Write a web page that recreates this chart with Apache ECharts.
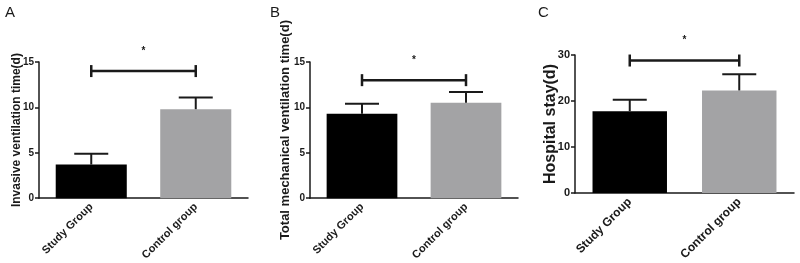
<!DOCTYPE html>
<html>
<head>
<meta charset="utf-8">
<script src="https://cdn.jsdelivr.net/npm/echarts@6/dist/echarts.min.js"></script>
<style>
  html, body { margin: 0; padding: 0; background: #fff; }
  #chart { width: 800px; height: 263px; }
</style>
</head>
<body>
<div id="chart"></div>
<script>
// group names on every x axis
const categories = ['Study Group', 'Control group'];

// A: invasive ventilation time (d)
const invasiveMean = [3.7, 9.8];
const invasiveErr = [1.2, 1.3];
// B: total mechanical ventilation time (d)
const totalMean = [9.3, 10.5];
const totalErr = [1.1, 1.2];
// C: hospital stay (d)
const stayMean = [17.8, 22.3];
const stayErr = [2.5, 3.5];

// height of the significance bracket in each panel
const bracketLevel = [14, 13, 28.8];

const panelNames = ['A', 'B', 'C'];
const yTitles = ['Invasive ventilation time(d)', 'Total mechanical ventilation time(d)', 'Hospital stay(d)'];
const yMax = [15, 15, 30];
const yStep = [5, 5, 10];

const font = 'Liberation Sans, Arial, sans-serif';
const ink = '#1a1a1a';
const barColors = ['#000000', '#a3a3a5'];

const means = [invasiveMean, totalMean, stayMean];
const errs = [invasiveErr, totalErr, stayErr];

const grids = [
  { left: 39, top: 62, width: 209, height: 137 },
  { left: 310, top: 62, width: 208, height: 137 },
  { left: 575, top: 55, width: 219, height: 144 }
];
const titleSize = [12, 13, 16];
const nameGaps = [16, 18, 16];
const tickSize = [10, 10, 11];
const catSize = [11, 11, 12];
const titleLeft = [0, 265, 533];

function errorBars(params, api) {
  const x = api.value(0);
  const top = api.coord([x, api.value(1) + api.value(2)]);
  const base = api.coord([x, api.value(1)]);
  const half = 17;
  const style = { stroke: ink, lineWidth: 2 };
  return {
    type: 'group',
    children: [
      { type: 'line', shape: { x1: base[0], y1: base[1], x2: top[0], y2: top[1] }, style: style },
      { type: 'line', shape: { x1: top[0] - half, y1: top[1], x2: top[0] + half, y2: top[1] }, style: style }
    ]
  };
}

function bracket(params, api) {
  const h = api.value(2);
  const p1 = api.coord([api.value(0), h]);
  const p2 = api.coord([api.value(1), h]);
  const style = { stroke: ink, lineWidth: 2.5 };
  return {
    type: 'group',
    children: [
      { type: 'line', shape: { x1: p1[0], y1: p1[1], x2: p2[0], y2: p2[1] }, style: style },
      { type: 'line', shape: { x1: p1[0], y1: p1[1] - 6, x2: p1[0], y2: p1[1] + 6 }, style: style },
      { type: 'line', shape: { x1: p2[0], y1: p2[1] - 6, x2: p2[0], y2: p2[1] + 6 }, style: style },
      { type: 'text', x: (p1[0] + p2[0]) / 2, y: p1[1] - 20,
        style: { text: '*', fill: ink, font: 'bold 10px ' + font, align: 'center', verticalAlign: 'middle' } }
    ]
  };
}

const series = [];
for (let i = 0; i < 3; i++) {
  series.push({
    type: 'bar',
    xAxisIndex: i,
    yAxisIndex: i,
    barWidth: '68%',
    data: means[i].map((v, j) => ({ value: v, itemStyle: { color: barColors[j] } }))
  });
  series.push({
    type: 'custom',
    xAxisIndex: i,
    yAxisIndex: i,
    renderItem: errorBars,
    clip: false,
    z: 3,
    data: means[i].map((v, j) => [j, v, errs[i][j]])
  });
  series.push({
    type: 'custom',
    xAxisIndex: i,
    yAxisIndex: i,
    renderItem: bracket,
    clip: false,
    data: [[0, 1, bracketLevel[i]]]
  });
}

const chart = echarts.init(document.getElementById('chart'));
chart.setOption({
  animation: false,
  backgroundColor: '#ffffff',
  textStyle: { fontFamily: font },
  title: panelNames.map((n, i) => ({
    text: n,
    left: titleLeft[i],
    top: 0,
    textStyle: { fontSize: 15, fontWeight: 'normal', color: ink, fontFamily: font }
  })),
  grid: grids,
  xAxis: grids.map((g, i) => ({
    type: 'category',
    gridIndex: i,
    data: categories,
    axisLine: { lineStyle: { color: ink, width: 1.5 } },
    axisTick: { alignWithLabel: true, length: 5, lineStyle: { color: ink, width: 1.5 } },
    axisLabel: { rotate: 45, color: ink, fontWeight: 'bold', fontSize: catSize[i], margin: 7, interval: 0 }
  })),
  yAxis: grids.map((g, i) => ({
    type: 'value',
    gridIndex: i,
    min: 0,
    max: yMax[i],
    interval: yStep[i],
    name: yTitles[i],
    nameLocation: 'middle',
    nameRotate: 90,
    nameGap: nameGaps[i],
    nameMoveOverlap: false,
    nameTextStyle: { fontWeight: 'bold', fontSize: titleSize[i], color: ink },
    splitLine: { show: false },
    axisLine: { show: true, lineStyle: { color: ink, width: 1.5 } },
    axisTick: { show: true, length: 4, lineStyle: { color: ink, width: 1.5 } },
    axisLabel: { color: ink, fontWeight: 'bold', fontSize: tickSize[i], margin: 5 }
  })),
  series: series
});
</script>
</body>
</html>
